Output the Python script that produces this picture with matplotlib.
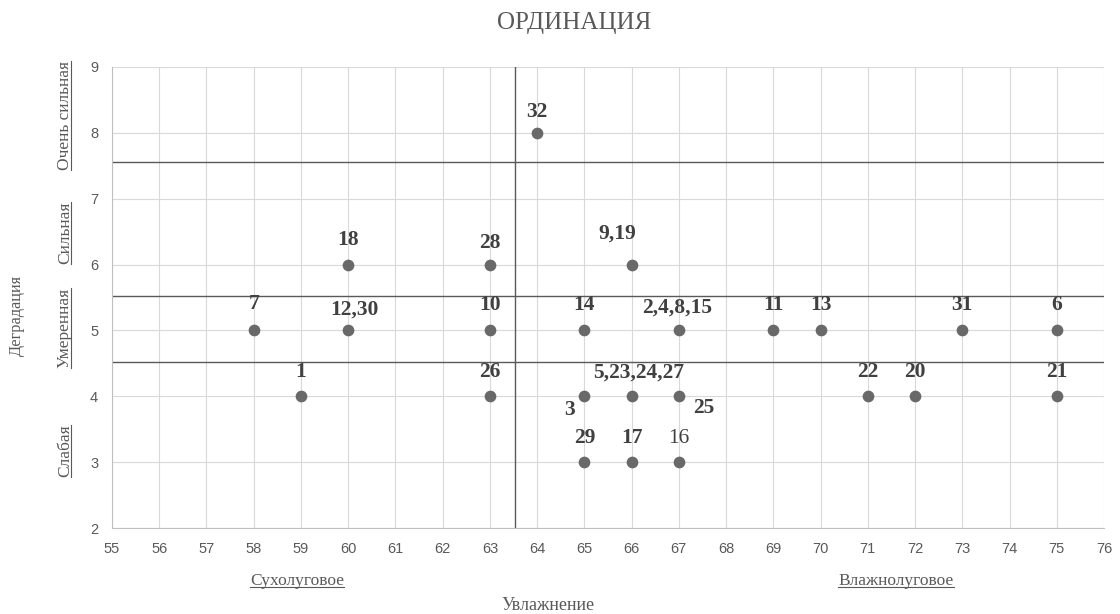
import matplotlib
matplotlib.use('Agg')
import matplotlib.pyplot as plt
import matplotlib.transforms as mtransforms
from matplotlib.lines import Line2D

# === данные ===
x_vals = [64, 60, 63, 66, 58, 60, 63, 65, 67, 69, 70, 73, 75,
          59, 63, 65, 66, 67, 71, 72, 75, 65, 66, 67]
y_vals = [8, 6, 6, 6, 5, 5, 5, 5, 5, 5, 5, 5, 5,
          4, 4, 4, 4, 4, 4, 4, 4, 3, 3, 3]
point_labels = ['32', '18', '28', '9,19', '7', '12,30', '10', '14', '2,4,8,15', '11', '13', '31', '6',
                '1', '26', '3', '5,23,24,27', '25', '22', '20', '21', '29', '17', '16']
# смещения подписей (пиксели)
label_offsets = [(0, 21), (0, 25), (0, 22), (-14, 31), (0, 26), (6, 21), (0, 25), (0, 25), (-2, 23),
                 (0, 25), (0, 25), (0, 25), (0, 25),
                 (0, 24), (0, 24), (-15, -14), (7, 24), (25, -12), (0, 24), (0, 24), (0, 24),
                 (0, 24), (0, 24), (0, 24)]
# разделительные линии
h_lines = [7.55, 5.52, 4.52]
v_line = 63.53
degradation_levels = ['Очень сильная', 'Сильная', 'Умеренная', 'Слабая']
degradation_pos = [8.27, 6.48, 5.04, 3.17]
moisture_levels = ['Сухолуговое', 'Влажнолуговое']

text_color = '#595959'
serif = ['Liberation Serif', 'DejaVu Serif']

fig = plt.figure(figsize=(11.2, 6.14), dpi=100)
ax = fig.add_axes([0.1, 0.14, 0.8857, 0.751])

ax.set_xlim(55, 76)
ax.set_ylim(2, 9)
ax.set_xticks(range(55, 77))
ax.set_yticks(range(2, 10))
ax.grid(True, color='#d9d9d9', linewidth=0.8)
ax.set_axisbelow(True)
for side in ['top', 'right']:
    ax.spines[side].set_visible(False)
for side in ['left', 'bottom']:
    ax.spines[side].set_color('#bfbfbf')
ax.tick_params(length=0, colors=text_color, labelsize=10.5, pad=10)
for lbl in ax.get_xticklabels() + ax.get_yticklabels():
    lbl.set_fontfamily('Liberation Sans')

for yl in h_lines:
    ax.axhline(yl, color='#595959', linewidth=1, zorder=2)
ax.axvline(v_line, color='#595959', linewidth=1, zorder=2)

ax.scatter(x_vals, y_vals, s=55, color='#696969', zorder=3)
for xv, yv, lab, off in zip(x_vals, y_vals, point_labels, label_offsets):
    weight = 'normal' if lab == '16' else 'bold'
    ax.annotate(lab, (xv, yv), xytext=off, textcoords='offset pixels',
                ha='center', va='center', fontsize=15.5, fontweight=weight,
                family=serif, color='#404040')

fig.text(574 / 1120, 1 - 23 / 614, 'ОРДИНАЦИЯ', ha='center', va='center', fontsize=18,
         family=serif, color=text_color)
fig.text(548 / 1120, 1 - 605 / 614, 'Увлажнение', ha='center', va='center', fontsize=13,
         family=serif, color=text_color)
fig.text(0.015, 1 - 316 / 614, 'Деградация', ha='center', va='center', fontsize=11.7,
         family=serif, color=text_color, rotation=90)

# подписи уровней с подчёркиванием
trans = mtransforms.blended_transform_factory(fig.transFigure, ax.transData)
underlined = []
for name, pos in zip(degradation_levels, degradation_pos):
    t = fig.text(0.058, pos, name, transform=trans, ha='center', va='center',
                 rotation=90, fontsize=12.5, family=serif, color=text_color)
    underlined.append((t, 'v'))
t = fig.text(297 / 1120, 1 - 581 / 614, moisture_levels[0], ha='center', va='center',
             fontsize=12.5, family=serif, color=text_color)
underlined.append((t, 'h'))
t = fig.text(896 / 1120, 1 - 581 / 614, moisture_levels[1], ha='center', va='center',
             fontsize=12.5, family=serif, color=text_color)
underlined.append((t, 'h'))

fig.canvas.draw()
W, H = fig.bbox.width, fig.bbox.height
for t, kind in underlined:
    bb = t.get_window_extent()
    if kind == 'h':
        yy = (bb.y0 + 2) / H
        fig.add_artist(Line2D([bb.x0 / W, bb.x1 / W], [yy, yy], color=text_color, linewidth=0.8))
    else:
        xx = (bb.x1 - 2) / W
        fig.add_artist(Line2D([xx, xx], [bb.y0 / H, bb.y1 / H], color=text_color, linewidth=0.8))

fig.savefig('out.png', dpi=100)
